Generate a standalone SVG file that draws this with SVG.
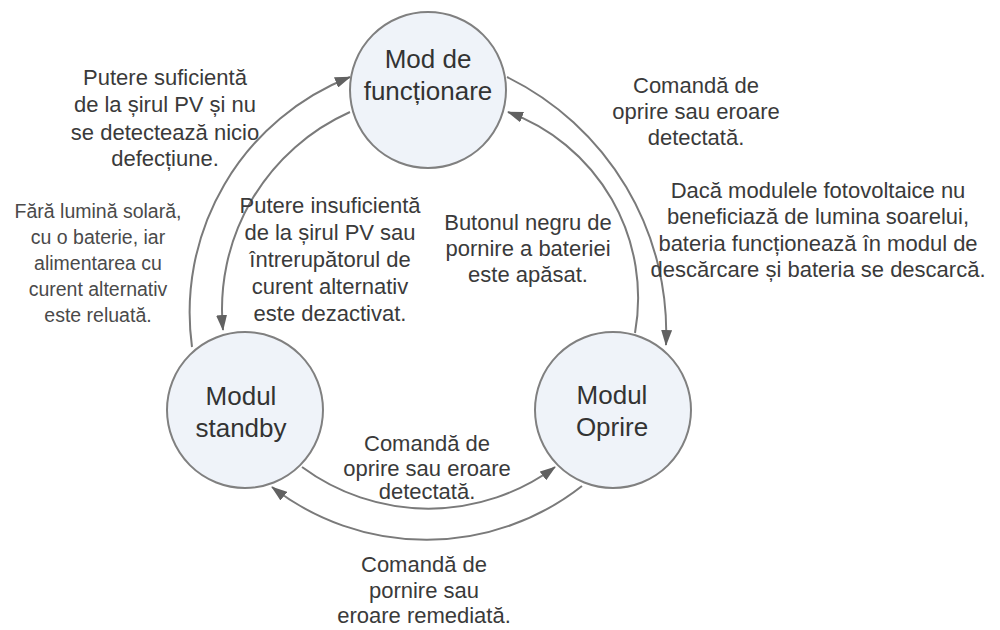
<svg xmlns="http://www.w3.org/2000/svg" width="1000" height="630" viewBox="0 0 1000 630">
<style>
.node circle{fill:#eff3f9;stroke:#808080;stroke-width:2}
.nl{font-family:"Liberation Sans",Arial,sans-serif;font-size:26px;fill:#333;text-anchor:middle}
.lb{font-family:"Liberation Sans",Arial,sans-serif;font-size:22px;fill:#3a3a3a;text-anchor:middle}
.sm{font-family:"Liberation Sans",Arial,sans-serif;font-size:19.5px;fill:#4a4a4a;text-anchor:middle}
.conn path{fill:none;stroke:#7a7a7a;stroke-width:2;marker-end:url(#ah)}
</style>
<defs>
<marker id="ah" viewBox="0 0 16 11" markerWidth="16" markerHeight="11" refX="15" refY="5.5" orient="auto" markerUnits="userSpaceOnUse">
<path d="M0,0 L16,5.5 L0,11 z" fill="#616161"/>
</marker>
</defs>
<rect width="1000" height="630" fill="#ffffff"/>
<g id="connectors" class="conn">
<path d="M192,347 A253,253 0 0,1 350,77"/>
<path d="M350,112 A216,216 0 0,0 223,330"/>
<path d="M507,77 A285,285 0 0,1 666,345"/>
<path d="M635,333 A198,198 0 0,0 508,112"/>
<path d="M302,467 A213,213 0 0,0 555,467"/>
<path d="M582,486 A252,252 0 0,1 272,487"/>
</g>
<g id="node-functionare" class="node">
<circle cx="428" cy="90" r="78"/>
<text class="nl" x="428" y="68">Mod de</text>
<text class="nl" x="428" y="100">funcționare</text>
</g>
<g id="node-standby" class="node">
<circle cx="245" cy="410" r="78"/>
<text class="nl" x="241" y="405">Modul</text>
<text class="nl" x="241" y="437">standby</text>
</g>
<g id="node-oprire" class="node">
<circle cx="613" cy="410" r="78"/>
<text class="nl" x="612" y="404">Modul</text>
<text class="nl" x="612" y="436">Oprire</text>
</g>
<g id="labels">
<text class="lb" x="165" y="85">Putere suficientă</text>
<text class="lb" x="165" y="112">de la șirul PV și nu</text>
<text class="lb" x="165" y="140">se detectează nicio</text>
<text class="lb" x="165" y="166">defecțiune.</text>

<text class="sm" x="98" y="218">Fără lumină solară,</text>
<text class="sm" x="98" y="244">cu o baterie, iar</text>
<text class="sm" x="98" y="270">alimentarea cu</text>
<text class="sm" x="98" y="296">curent alternativ</text>
<text class="sm" x="98" y="322">este reluată.</text>

<text class="lb" x="330" y="213">Putere insuficientă</text>
<text class="lb" x="330" y="240">de la șirul PV sau</text>
<text class="lb" x="330" y="267">întrerupătorul de</text>
<text class="lb" x="330" y="294">curent alternativ</text>
<text class="lb" x="330" y="321">este dezactivat.</text>

<text class="lb" x="528" y="230">Butonul negru de</text>
<text class="lb" x="528" y="256">pornire a bateriei</text>
<text class="lb" x="528" y="282">este apăsat.</text>

<text class="lb" x="696" y="93">Comandă de</text>
<text class="lb" x="696" y="119">oprire sau eroare</text>
<text class="lb" x="696" y="145">detectată.</text>

<text class="lb" x="818" y="198">Dacă modulele fotovoltaice nu</text>
<text class="lb" x="818" y="224">beneficiază de lumina soarelui,</text>
<text class="lb" x="818" y="251">bateria funcționează în modul de</text>
<text class="lb" x="818" y="277">descărcare și bateria se descarcă.</text>

<text class="lb" x="427" y="451">Comandă de</text>
<text class="lb" x="427" y="476">oprire sau eroare</text>
<text class="lb" x="427" y="499">detectată.</text>

<text class="lb" x="424" y="572">Comandă de</text>
<text class="lb" x="424" y="598">pornire sau</text>
<text class="lb" x="424" y="623">eroare remediată.</text>
</g>
</svg>
